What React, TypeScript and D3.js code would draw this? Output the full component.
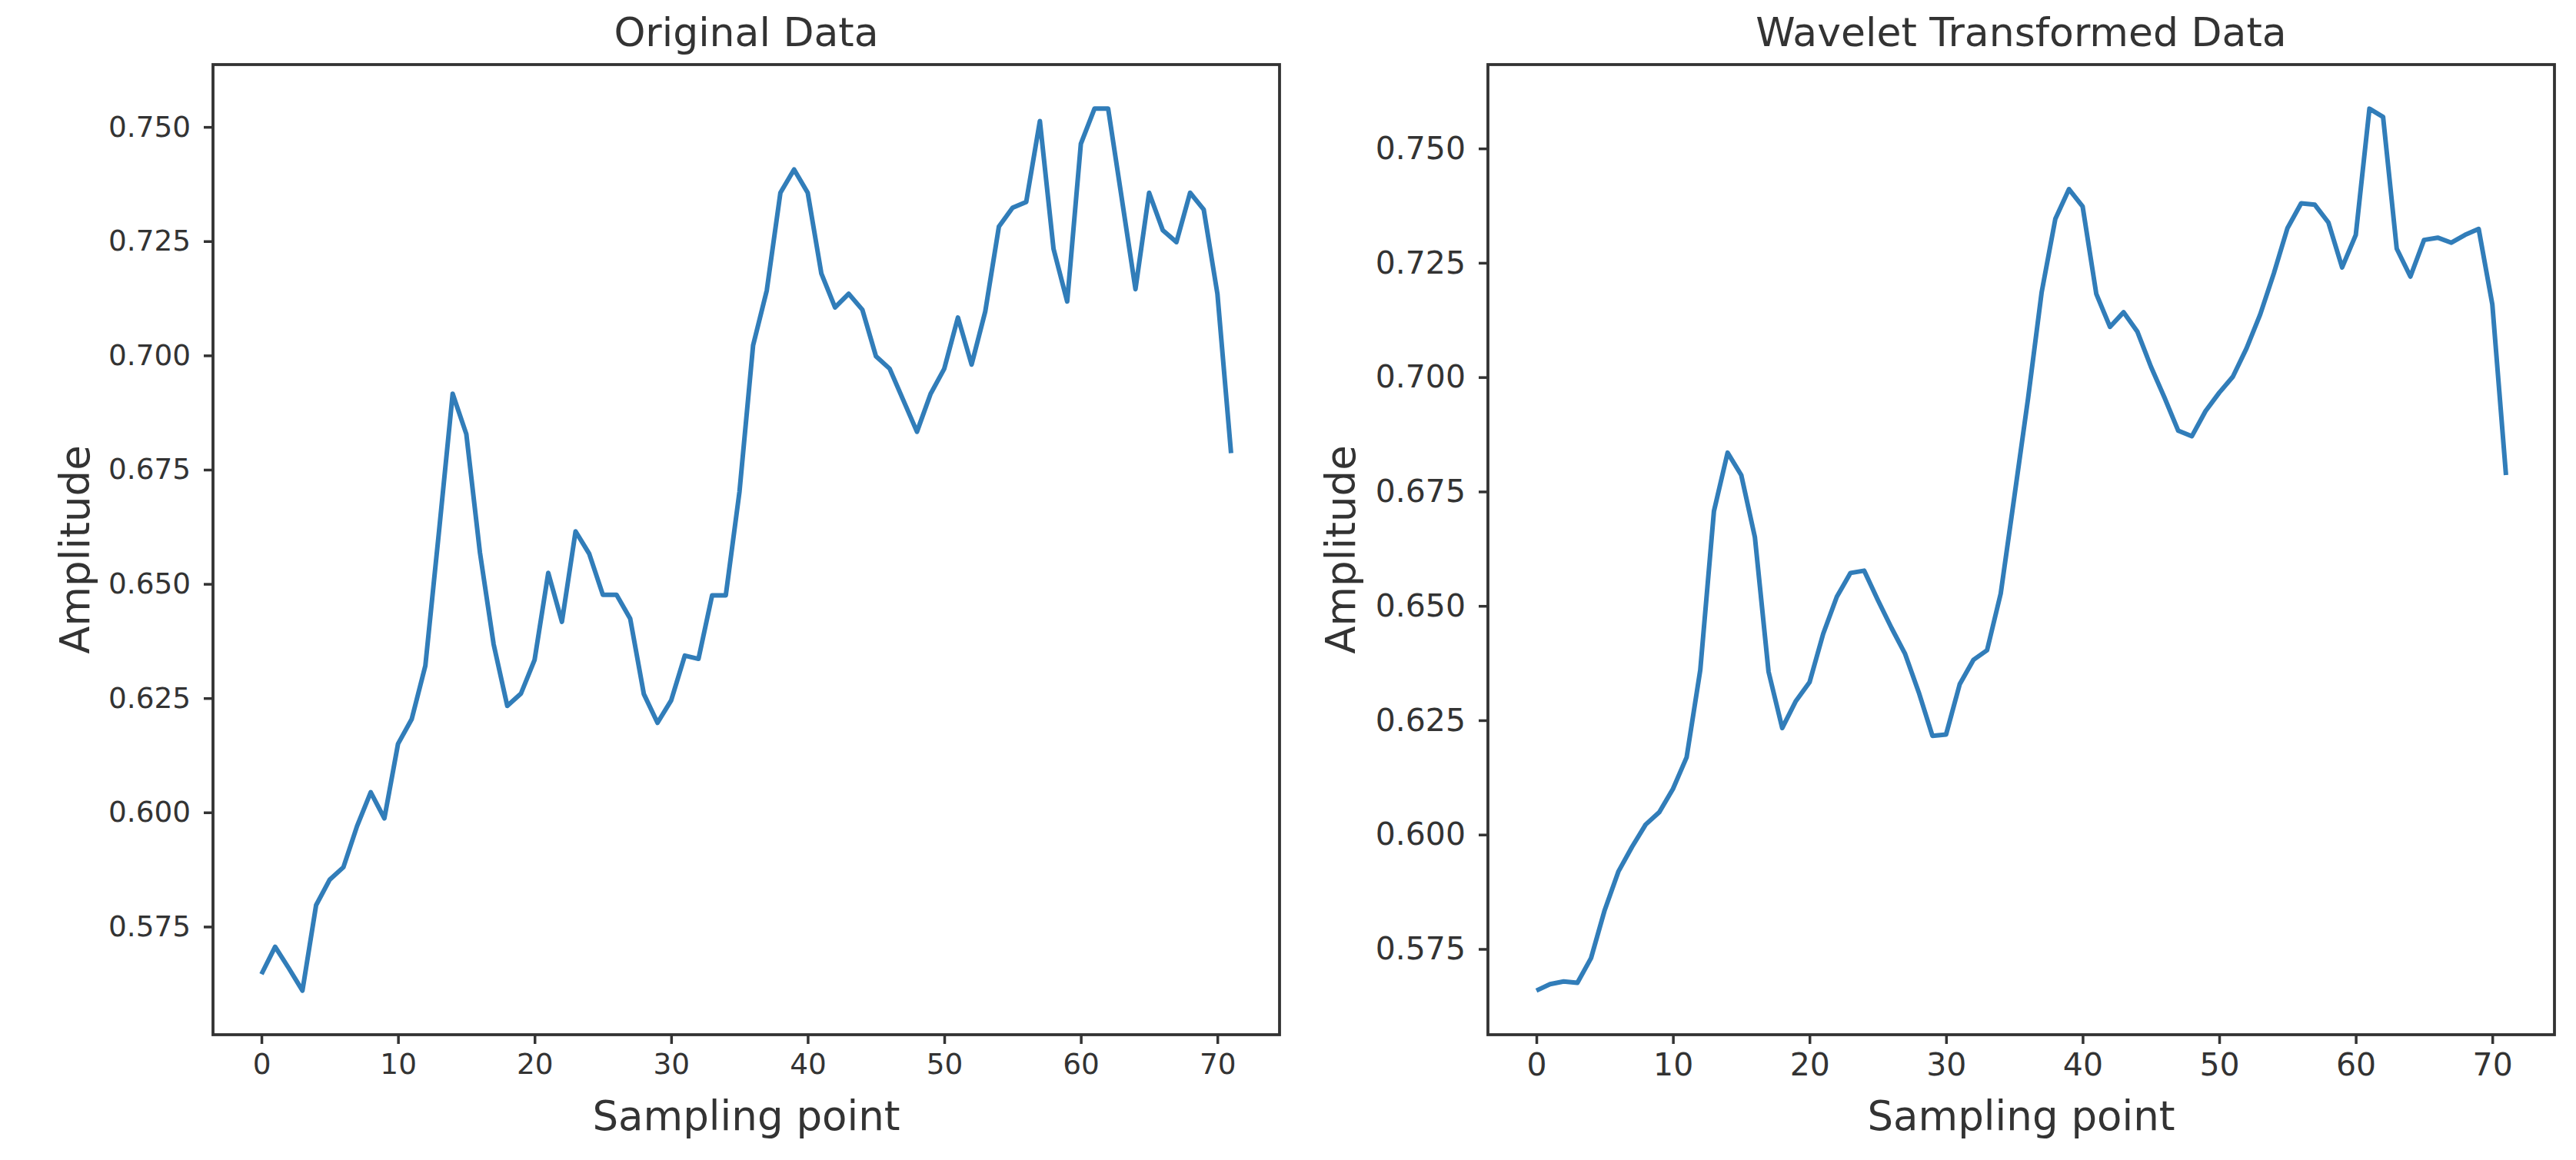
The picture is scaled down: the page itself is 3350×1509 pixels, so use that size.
import React, { useEffect, useRef } from "react";
import * as d3 from "d3";

// Amplitude per sampling point
const originalValues = [
  0.5646, 0.5706, 0.5659, 0.561, 0.5797, 0.5853, 0.588, 0.597, 0.6044, 0.5987,
  0.615, 0.6204, 0.6321, 0.6615, 0.6916, 0.6828, 0.6568, 0.6368, 0.6233, 0.626,
  0.6334, 0.6524, 0.6417, 0.6615, 0.6566, 0.6476, 0.6476, 0.6424, 0.6259, 0.6196,
  0.6245, 0.6343, 0.6336, 0.6475, 0.6475, 0.6701, 0.7022, 0.7142, 0.7356, 0.7407,
  0.7356, 0.7179, 0.7105, 0.7135, 0.71, 0.6998, 0.6971, 0.6902, 0.6833, 0.6916,
  0.6971, 0.7083, 0.698, 0.7096, 0.7282, 0.7323, 0.7336, 0.7513, 0.7233, 0.7118,
  0.7463, 0.754, 0.754, 0.7343, 0.7145, 0.7356, 0.7274, 0.7248, 0.7356, 0.7319,
  0.7135, 0.6786,
];

const waveletValues = [
  0.5659, 0.5673, 0.5679, 0.5676, 0.573, 0.5835, 0.5919, 0.5973, 0.6022, 0.6049,
  0.61, 0.6169, 0.636, 0.6707, 0.6835, 0.6786, 0.665, 0.6356, 0.6233, 0.6292,
  0.6333, 0.6439, 0.652, 0.6572, 0.6577, 0.6513, 0.6452, 0.6395, 0.6311, 0.6216,
  0.6219, 0.6329, 0.6382, 0.6403, 0.6527, 0.6739, 0.6953, 0.7186, 0.7346, 0.7411,
  0.7373, 0.7182, 0.711, 0.7142, 0.71, 0.7023, 0.6955, 0.6883, 0.6871, 0.6926,
  0.6966, 0.7001, 0.7063, 0.7137, 0.7227, 0.7326, 0.738, 0.7377, 0.7338, 0.724,
  0.7311, 0.7587, 0.7569, 0.7281, 0.722, 0.73, 0.7305, 0.7294, 0.7311, 0.7324,
  0.7159, 0.6786,
];

const xTicks = [0, 10, 20, 30, 40, 50, 60, 70];
const yTicks = [0.575, 0.6, 0.625, 0.65, 0.675, 0.7, 0.725, 0.75];
const titles = ["Original Data", "Wavelet Transformed Data"];
const xLabel = "Sampling point";
const yLabel = "Amplitude";

const WIDTH = 3350;
const HEIGHT = 1509;
const FONT = "DejaVu Sans";
const INK = "#333333";
const LINE_COLOR = "#317db9";

const App: React.FC = () => {
  const svgRef = useRef<SVGSVGElement>(null);

  useEffect(() => {
    const svg = d3.select(svgRef.current);
    svg.selectAll("*").remove();

    const top = 84;
    const bottom = 1346;
    const panels = [
      { left: 277, right: 1664, values: originalValues, tickFont: 37.4, yLabelX: 116 },
      { left: 1935, right: 3322, values: waveletValues, tickFont: 41, yLabelX: 1762 },
    ];

    panels.forEach((p, k) => {
      const n = p.values.length;
      const xPad = (n - 1) * 0.05;
      const x = d3
        .scaleLinear()
        .domain([-xPad, n - 1 + xPad])
        .range([p.left, p.right]);

      const [lo, hi] = d3.extent(p.values) as [number, number];
      const yPad = (hi - lo) * 0.05;
      const y = d3
        .scaleLinear()
        .domain([lo - yPad, hi + yPad])
        .range([bottom, top]);

      const g = svg.append("g");

      g.append("path")
        .datum(p.values)
        .attr("fill", "none")
        .attr("stroke", LINE_COLOR)
        .attr("stroke-width", 6)
        .attr("stroke-linejoin", "round")
        .attr(
          "d",
          d3
            .line<number>()
            .x((_, i) => x(i))
            .y((d) => y(d))
        );

      // frame
      g.append("rect")
        .attr("x", p.left)
        .attr("y", top)
        .attr("width", p.right - p.left)
        .attr("height", bottom - top)
        .attr("fill", "none")
        .attr("stroke", INK)
        .attr("stroke-width", 3.8);

      const xAxis = g
        .append("g")
        .attr("transform", `translate(0,${bottom})`)
        .call(
          d3
            .axisBottom(x)
            .tickValues(xTicks)
            .tickSize(12)
            .tickPadding(12)
            .tickFormat(d3.format("d"))
        );

      const yAxis = g
        .append("g")
        .attr("transform", `translate(${p.left},0)`)
        .call(
          d3
            .axisLeft(y)
            .tickValues(yTicks)
            .tickSize(12)
            .tickPadding(17)
            .tickFormat(d3.format(".3f"))
        );

      [xAxis, yAxis].forEach((ax) => {
        ax.select(".domain").remove();
        ax.selectAll(".tick line").attr("stroke", INK).attr("stroke-width", 3.5);
        ax.selectAll(".tick text")
          .attr("fill", INK)
          .attr("font-family", FONT)
          .attr("font-size", p.tickFont);
      });

      const cx = (p.left + p.right) / 2;

      g.append("text")
        .attr("x", cx)
        .attr("y", 60)
        .attr("text-anchor", "middle")
        .attr("font-family", FONT)
        .attr("font-size", 52)
        .attr("fill", INK)
        .text(titles[k]);

      g.append("text")
        .attr("x", cx)
        .attr("y", 1470)
        .attr("text-anchor", "middle")
        .attr("font-family", FONT)
        .attr("font-size", 53)
        .attr("fill", INK)
        .text(xLabel);

      g.append("text")
        .attr("transform", `translate(${p.yLabelX},${(top + bottom) / 2})rotate(-90)`)
        .attr("text-anchor", "middle")
        .attr("font-family", FONT)
        .attr("font-size", 53)
        .attr("fill", INK)
        .text(yLabel);
    });
  }, []);

  return (
    <svg
      ref={svgRef}
      width={WIDTH}
      height={HEIGHT}
      style={{ position: "absolute", left: 0, top: 0, background: "#ffffff" }}
    />
  );
};

export default App;
